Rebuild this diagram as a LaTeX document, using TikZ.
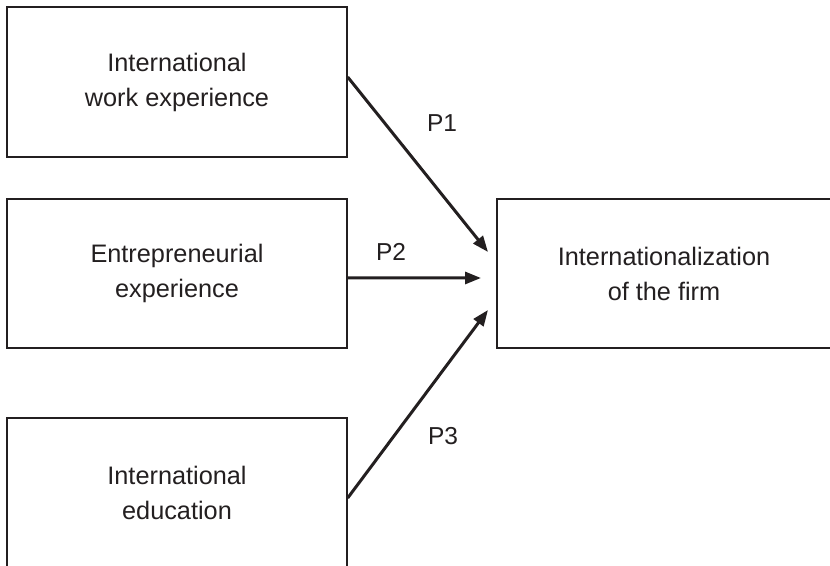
\documentclass[tikz,border=0pt]{standalone}
\usepackage{fontspec}
\setmainfont{Liberation Sans}
\usetikzlibrary{arrows.meta}
\definecolor{ink}{HTML}{231F20}
\begin{document}
\begin{tikzpicture}[x=1bp,y=1bp,
  box/.style={draw=ink, line width=1.4bp, minimum height=149bp,
    inner sep=0pt, align=center, text=ink,
    font=\fontsize{25.3bp}{35bp}\selectfont},
  leftbox/.style={box, minimum width=340bp},
  link/.style={draw=ink, line width=3bp,
    -{Triangle[length=16bp,width=12bp]}},
  plabel/.style={text=ink, font=\fontsize{24.5bp}{30bp}\selectfont, inner sep=0pt}]
\useasboundingbox (0,0) rectangle (830,566);
\clip (0,0) rectangle (830,566);

% input boxes
\node[leftbox, minimum height=150bp] (work) at (177,484)
  {International\\work experience};
\node[leftbox] (entre) at (177,292.5)
  {Entrepreneurial\\experience};
\node[leftbox, minimum height=150bp] (edu) at (177,73)
  {International\\education};

% outcome box
\node[box, minimum width=334bp] (firm) at (664,292.5)
  {Internationalization\\of the firm};

% arrow ends just short of the outcome box
\coordinate (t1) at (488,314);
\coordinate (t2) at (481,288);
\coordinate (t3) at (488,256);

\draw[link] ([yshift=5bp]work.east) -- (t1);
\draw[link] ([yshift=-4.5bp]entre.east) -- (t2);
\draw[link] ([yshift=-5bp]edu.east) -- (t3);

% proposition labels
\node[plabel] (p1) at (442,443) {P1};
\node[plabel] (p2) at (391,314) {P2};
\node[plabel] (p3) at (443,130) {P3};
\end{tikzpicture}
\end{document}
